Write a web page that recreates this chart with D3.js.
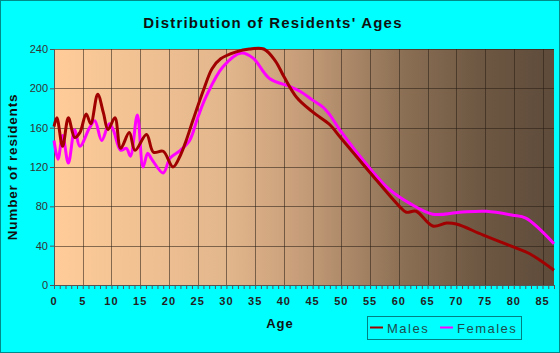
<!DOCTYPE html>
<html>
<head>
<meta charset="utf-8">
<script src="https://cdn.jsdelivr.net/npm/d3@7"></script>
<style>
  body { margin: 0; background: #fff; }
  svg { display: block; font-family: "Liberation Sans", Arial, sans-serif; }
</style>
</head>
<body>
<div id="chart"></div>
<script>
// data
const maleAges   = [0, 0.5, 1.5, 2.5, 3.6, 4.5, 5.6, 6.4, 7.6, 8.6, 9.4, 10.6, 11.6, 13.1, 14.1, 16.1, 17.3, 19, 20.7, 22, 23, 24.2, 26, 27.5, 29, 31.7, 34, 36.5, 38.5, 40, 42.2, 45, 48, 49.7, 54.9, 60.1, 61.3, 63, 65.9, 68.3, 70, 74.6, 79.8, 82.7, 87];
const maleCounts = [161, 170, 141, 170, 150, 155, 174, 164, 194, 175, 158, 170, 139, 155, 137, 153, 135, 136, 120, 132, 147, 168, 198, 220, 230, 237, 240, 240, 228, 212, 191, 176, 163, 151, 115, 80, 74, 75, 60, 63, 62, 51, 39, 32, 15];

const femaleAges   = [0, 0.7, 1.5, 2.5, 3.6, 4.5, 6.2, 7.1, 8.3, 9.6, 10.3, 11.6, 12.6, 13.3, 14.5, 15.5, 16.3, 17, 19, 20.2, 22, 23.6, 25, 26.5, 29.4, 32.6, 34.6, 37.5, 41, 42.8, 45, 46.8, 48, 49.7, 54.9, 58.4, 61.9, 65.9, 70.6, 75.2, 79.8, 82.1, 87];
const femaleCounts = [147, 128, 152, 124, 158, 141, 160, 167, 147, 164, 158, 137, 139, 131, 173, 120, 134, 128, 114, 129, 137, 147, 170, 192, 222, 236, 231, 210, 202, 197, 188, 181, 173, 158, 119, 97, 83, 72, 74, 75, 71, 68, 42];

const xTicks = [0, 5, 10, 15, 20, 25, 30, 35, 40, 45, 50, 55, 60, 65, 70, 75, 80, 85];
const yTicks = [0, 40, 80, 120, 160, 200, 240];

const W = 560, H = 353;
const margin = {top: 49, right: 6, bottom: 68, left: 54},
    width = W - margin.left - margin.right,
    height = H - margin.top - margin.bottom;

const root = d3.select("#chart")
  .append("svg")
    .attr("width", W)
    .attr("height", H);

root.append("rect")
    .attr("x", 0.5).attr("y", 0.5)
    .attr("width", W - 1).attr("height", H - 1)
    .attr("fill", "#00ffff")
    .attr("stroke", "#008b8b");

// background gradient of the plot
const grad = root.append("defs").append("linearGradient")
    .attr("id", "bg").attr("x1", 0).attr("x2", 1).attr("y1", 0).attr("y2", 0);
[[0, "#ffcc99"], [0.35, "#e2b68c"], [0.5, "#c59c78"], [0.7, "#8b6f54"], [0.85, "#6e5843"], [1, "#5e4b3a"]]
  .forEach(s => grad.append("stop").attr("offset", s[0]).attr("stop-color", s[1]));

const svg = root.append("g")
    .attr("transform", `translate(${margin.left},${margin.top})`);

const x = d3.scaleLinear().domain([0, 87]).range([0, width]);
const y = d3.scaleLinear().domain([0, 240]).range([height, 0]);

svg.append("rect")
    .attr("width", width)
    .attr("height", height)
    .attr("fill", "url(#bg)");

// grid
svg.append("g")
  .selectAll("line")
  .data(xTicks.slice(1))
  .join("line")
    .attr("x1", d => Math.round(x(d)) + 0.5)
    .attr("x2", d => Math.round(x(d)) + 0.5)
    .attr("y1", 0).attr("y2", height)
    .attr("stroke", "rgba(40,30,20,0.55)");
svg.append("g")
  .selectAll("line")
  .data(yTicks.slice(1))
  .join("line")
    .attr("x1", 0).attr("x2", width)
    .attr("y1", d => Math.round(y(d)) + 0.5)
    .attr("y2", d => Math.round(y(d)) + 0.5)
    .attr("stroke", "rgba(40,30,20,0.55)");

// axes
const yAxis = svg.append("g")
    .call(d3.axisLeft(y).tickValues(yTicks).tickSize(4).tickPadding(2));
yAxis.selectAll("text").attr("font-size", 11).attr("fill", "#333").attr("font-family", "Liberation Sans, Arial");
yAxis.selectAll("line, path").attr("stroke", "#555");

const xAxis = svg.append("g")
    .attr("transform", `translate(0,${height})`)
    .call(d3.axisBottom(x).tickValues(d3.range(0, 88)).tickSize(4).tickFormat(""));
xAxis.selectAll("line, path").attr("stroke", "#555");

svg.append("g")
  .selectAll("text")
  .data(xTicks)
  .join("text")
    .attr("x", d => x(d))
    .attr("y", height + 20)
    .attr("text-anchor", "middle")
    .attr("font-size", 11)
    .attr("font-weight", "bold")
    .attr("letter-spacing", 1)
    .attr("fill", "#222")
    .text(d => d);

// lines
const line = d3.line()
    .x(d => x(d[0]))
    .y(d => y(d[1]))
    .curve(d3.curveCatmullRom.alpha(0.5));

svg.append("path")
    .datum(femaleAges.map((a, i) => [a, femaleCounts[i]]))
    .attr("fill", "none")
    .attr("stroke", "#ff00ff")
    .attr("stroke-width", 3)
    .attr("d", line);

svg.append("path")
    .datum(maleAges.map((a, i) => [a, maleCounts[i]]))
    .attr("fill", "none")
    .attr("stroke", "#a00000")
    .attr("stroke-width", 3)
    .attr("d", line);

// titles
root.append("text")
    .attr("x", 273).attr("y", 28)
    .attr("text-anchor", "middle")
    .attr("font-size", 15)
    .attr("font-weight", "bold")
    .attr("letter-spacing", 1.2)
    .attr("fill", "#111")
    .text("Distribution of Residents' Ages");

root.append("text")
    .attr("transform", "translate(17,167) rotate(-90)")
    .attr("text-anchor", "middle")
    .attr("font-size", 13.5)
    .attr("font-weight", "bold")
    .attr("letter-spacing", 0.8)
    .attr("fill", "#111")
    .text("Number of residents");

root.append("text")
    .attr("x", 280).attr("y", 328)
    .attr("text-anchor", "middle")
    .attr("font-size", 13)
    .attr("font-weight", "bold")
    .attr("letter-spacing", 1)
    .attr("fill", "#111")
    .text("Age");

// legend
const legend = root.append("g");
legend.append("rect")
    .attr("x", 367.5).attr("y", 316.5)
    .attr("width", 154).attr("height", 23)
    .attr("fill", "none")
    .attr("stroke", "#008080");
[["Males", "#a00000", 370], ["Females", "#ff00ff", 440]].forEach(d => {
  legend.append("line")
      .attr("x1", d[2]).attr("x2", d[2] + 13)
      .attr("y1", 327.5).attr("y2", 327.5)
      .attr("stroke", d[1]).attr("stroke-width", 2);
  legend.append("text")
      .attr("x", d[2] + 17).attr("y", 332.5)
      .attr("font-size", 13)
      .attr("letter-spacing", 1.5)
      .attr("fill", "#1d4d4d")
      .text(d[0]);
});
</script>
</body>
</html>
